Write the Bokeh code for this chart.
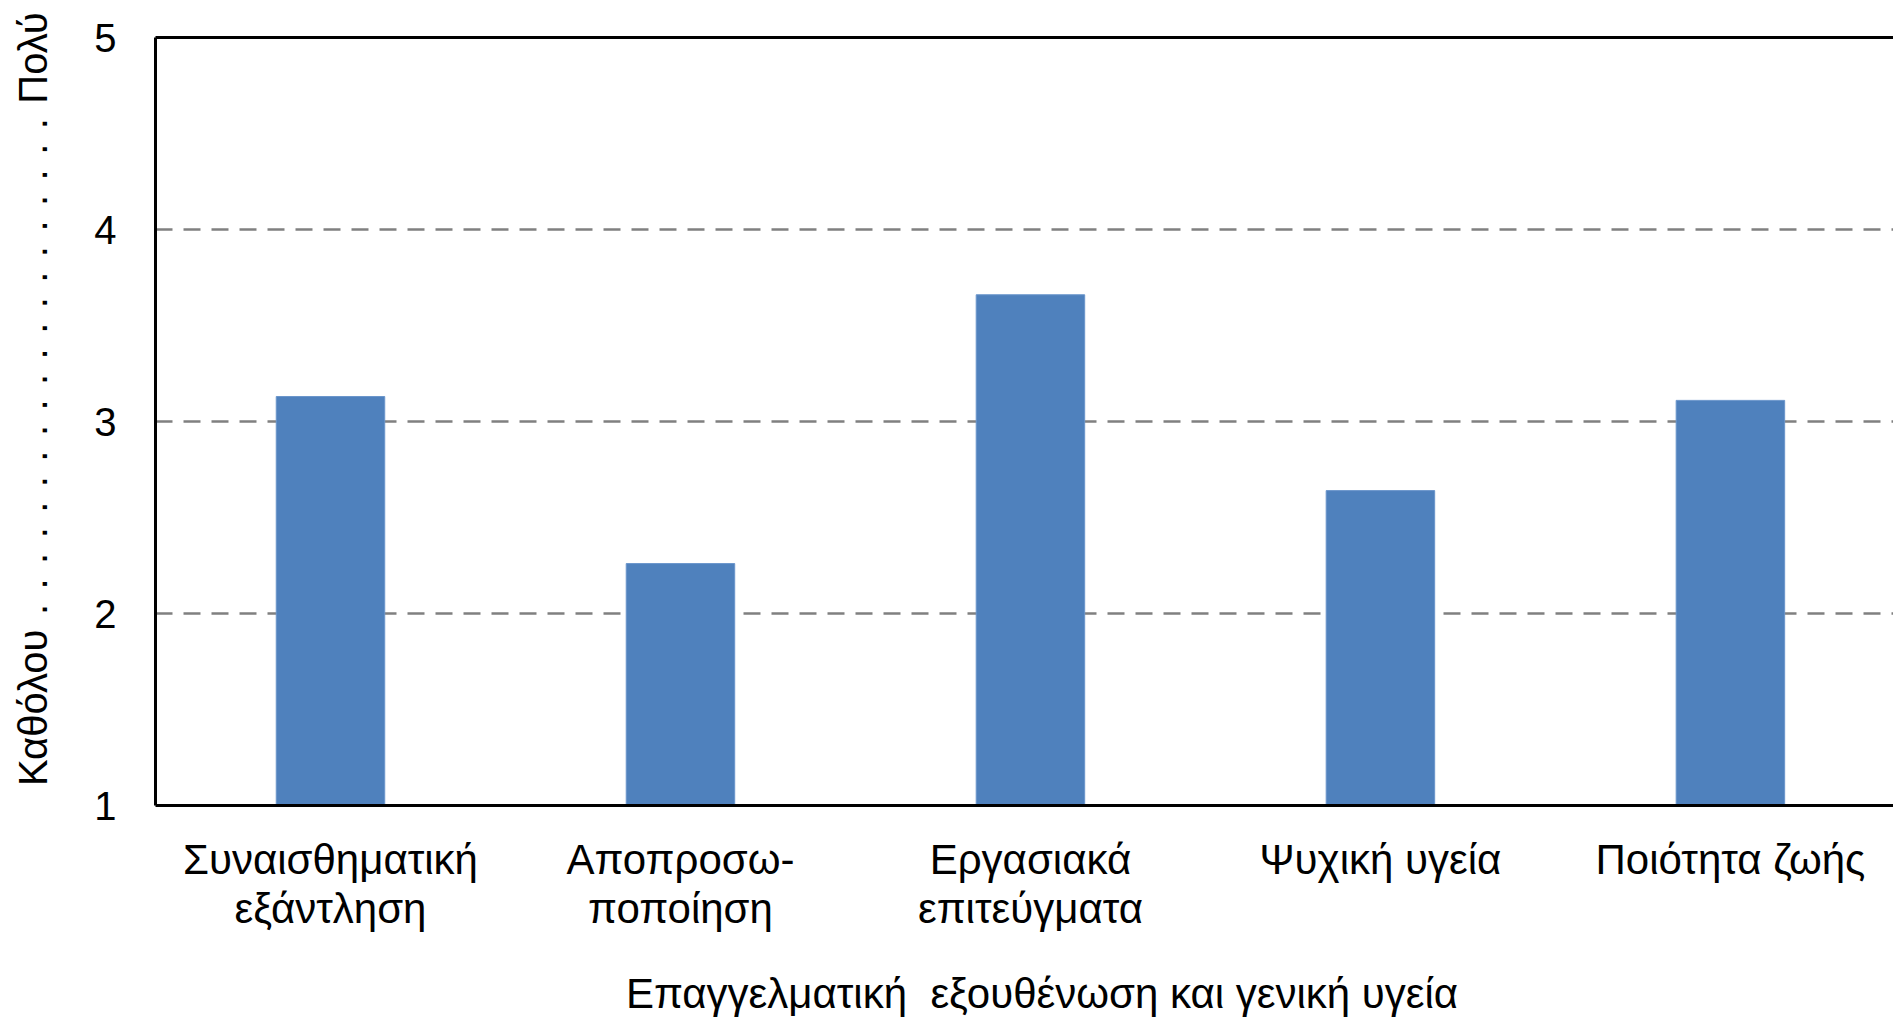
from bokeh.plotting import figure
from bokeh.models import Range1d, FixedTicker, LinearAxis
from bokeh.embed import file_html
from bokeh.resources import INLINE

categories = ["Συναισθηματική\nεξάντληση", "Αποπροσω-\nποποίηση", "Εργασιακά\nεπιτεύγματα",
              "Ψυχική υγεία", "Ποιότητα ζωής"]
values = [3.13, 2.26, 3.66, 2.64, 3.11]
y_ticks = [1, 2, 3, 4, 5]
x_title = "\u00a0\u00a0\u00a0Επαγγελματική\u00a0 εξουθένωση και γενική υγεία"
y_title = "\u00a0\u00a0\u00a0\u00a0Καθόλου" + "\u00a0\u200a." * 20 + "\u00a0\u200aΠολύ"

FONT = "Liberation Sans"
FS = "42px"

xs = [i + 0.5 for i in range(len(categories))]

p = figure(width=1893, height=1021, output_backend="svg", toolbar_location=None,
           x_range=Range1d(0, 4.966), y_range=Range1d(1, 5),
           min_border_left=155, min_border_right=0, min_border_top=37, min_border_bottom=216)
p.outline_line_color = None
p.background_fill_color = "white"

p.vbar(x=xs, top=values, bottom=1, width=0.31, fill_color="#4F81BD", line_color="#6A95CB", line_width=1)

# grid
p.xgrid.grid_line_color = None
p.ygrid.ticker = FixedTicker(ticks=[2, 3, 4])
p.ygrid.grid_line_color = "#808080"
p.ygrid.grid_line_width = 2.5
p.ygrid.grid_line_dash = "17 11"

# y axis
ya = p.yaxis[0]
ya.ticker = FixedTicker(ticks=y_ticks)
ya.axis_line_color = "black"
ya.axis_line_width = 3
ya.major_tick_line_color = None
ya.minor_tick_line_color = None
ya.major_label_standoff = 33
ya.major_label_text_font = FONT
ya.major_label_text_font_size = "40px"
ya.major_label_text_color = "black"
ya.axis_label = y_title
ya.axis_label_text_font = FONT
ya.axis_label_text_font_size = "40px"
ya.axis_label_text_font_style = "normal"
ya.axis_label_text_color = "black"
ya.axis_label_standoff = 36

# x axis
xa = p.xaxis[0]
xa.ticker = FixedTicker(ticks=xs)
xa.major_label_overrides = {x: c for x, c in zip(xs, categories)}
xa.axis_line_color = "black"
xa.axis_line_width = 3
xa.major_tick_line_color = None
xa.minor_tick_line_color = None
xa.major_label_standoff = 24
xa.major_label_text_font = FONT
xa.major_label_text_font_size = FS
xa.major_label_text_color = "black"
xa.major_label_text_line_height = 1.05
xa.axis_label = x_title
xa.axis_label_text_font = FONT
xa.axis_label_text_font_size = FS
xa.axis_label_text_font_style = "normal"
xa.axis_label_text_color = "black"
xa.axis_label_standoff = 35

# top border line
top = LinearAxis(axis_line_color="black", axis_line_width=3, major_tick_line_color=None,
                 minor_tick_line_color=None, major_label_text_font_size="0px")
p.add_layout(top, "above")

open("out.html", "w").write(file_html(p, INLINE))
